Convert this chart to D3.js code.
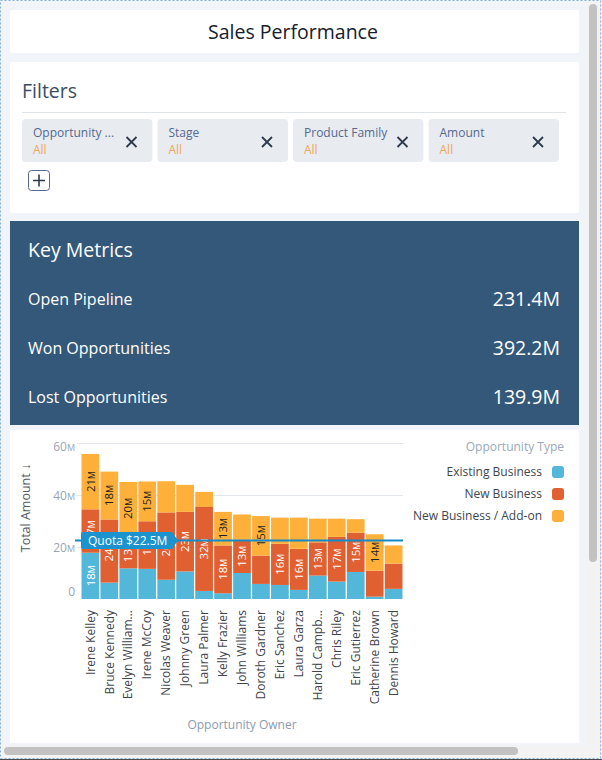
<!DOCTYPE html>
<html>
<head>
<meta charset="utf-8">
<script src="https://cdn.jsdelivr.net/npm/d3@7"></script>
<style>
  html, body { margin: 0; padding: 0; overflow: hidden; background: #f1f4f8; }
  svg { display: block; font-family: "Open Sans", sans-serif; }
</style>
</head>
<body>
<svg id="page" width="602" height="760"></svg>
<script>
// ---------- data ----------
const dashboardTitle = "Sales Performance";
const filterNames = ["Opportunity ...", "Stage", "Product Family", "Amount"];
const filterValues = ["All", "All", "All", "All"];
const metricLabels = ["Open Pipeline", "Won Opportunities", "Lost Opportunities"];
const metricValues = ["231.4M", "392.2M", "139.9M"];

const owners = ["Irene Kelley", "Bruce Kennedy", "Evelyn William...", "Irene McCoy", "Nicolas Weaver",
  "Johnny Green", "Laura Palmer", "Kelly Frazier", "John Williams", "Doroth Gardner", "Eric Sanchez",
  "Laura Garza", "Harold Campb...", "Chris Riley", "Eric Gutierrez", "Catherine Brown", "Dennis Howard"];
const existingBusiness = [17.8, 6.3, 11.8, 11.6, 7.4, 10.6, 3.1, 2.2, 10.0, 5.8, 5.4, 3.5, 9.0, 6.7, 10.4, 0.9, 3.9];
const newBusiness      = [16.7, 24.3, 12.8, 18.3, 25.9, 22.9, 32.3, 18.4, 12.8, 10.9, 15.8, 15.8, 12.8, 17.2, 15.1, 10.0, 9.7];
const addOnBusiness    = [21.3, 18.4, 20.4, 15.3, 12.0, 10.4, 5.8, 12.9, 9.7, 15.2, 10.1, 12.0, 9.1, 7.0, 5.2, 14.0, 7.0];
const seriesNames = ["Existing Business", "New Business", "New Business / Add-on"];
const seriesColors = ["#52b7d8", "#e16032", "#ffb03b"];
const yTicks = [0, 20, 40, 60];
const quotaValue = 22.5;
const quotaLabel = "Quota $22.5M";

// ---------- page ----------
const svg = d3.select("#page");
svg.append("rect").attr("x", 0).attr("y", 0).attr("width", 602).attr("height", 760).attr("fill", "#f1f4f8");

// header card
svg.append("rect").attr("x", 10).attr("y", 10).attr("width", 569).attr("height", 43).attr("fill", "#fff").attr("rx", 2);
svg.append("text").attr("x", 293).attr("y", 39).attr("text-anchor", "middle")
  .attr("font-size", 19.5).attr("fill", "#16202d").text(dashboardTitle);

// filters card
svg.append("rect").attr("x", 10).attr("y", 62).attr("width", 569).attr("height", 151).attr("fill", "#fff").attr("rx", 2);
svg.append("text").attr("x", 22).attr("y", 98).attr("font-size", 19.5).attr("fill", "#3b4d63").text("Filters");
svg.append("line").attr("x1", 22).attr("x2", 566).attr("y1", 112.5).attr("y2", 112.5).attr("stroke", "#dfe4ea");

const pillX = d3.scaleBand().domain(filterNames).range([22, 559]).paddingInner(0.037);
const pills = svg.selectAll("g.pill").data(filterNames).join("g").attr("class", "pill")
  .attr("transform", d => `translate(${pillX(d)},119)`);
pills.append("rect").attr("width", pillX.bandwidth()).attr("height", 43).attr("rx", 4).attr("fill", "#e8ecf1");
pills.append("text").attr("x", 11).attr("y", 18)
  .attr("font-size", 12).attr("fill", "#54698d").text(d => d);
pills.append("text").attr("x", 11).attr("y", 35)
  .attr("font-size", 12).attr("fill", "#f2a65a").text((d, i) => filterValues[i]);
pills.each(function() {
  const g = d3.select(this);
  const cx = pillX.bandwidth() - 21, cy = 23;
  g.append("path").attr("d", `M${cx - 5},${cy - 5}L${cx + 5},${cy + 5}M${cx + 5},${cy - 5}L${cx - 5},${cy + 5}`)
    .attr("stroke", "#2c3a4c").attr("stroke-width", 1.8);
});
svg.append("rect").attr("x", 28.5).attr("y", 170.5).attr("width", 21).attr("height", 20).attr("rx", 3)
  .attr("fill", "#fff").attr("stroke", "#54698d");
svg.append("path").attr("d", "M33,180.5H45M39,174.5V186.5").attr("stroke", "#2c3a4c").attr("stroke-width", 1.6);

// key metrics
svg.append("rect").attr("x", 10).attr("y", 221).attr("width", 569).attr("height", 204).attr("fill", "#34587a");
svg.append("text").attr("x", 28).attr("y", 257).attr("font-size", 19.5).attr("fill", "#fff").text("Key Metrics");
const metricY = d3.scalePoint().domain(metricLabels).range([299, 397]);
svg.selectAll("text.mlabel").data(metricLabels).join("text").attr("class", "mlabel")
  .attr("x", 28).attr("y", d => metricY(d) + 5.5).attr("font-size", 16).attr("fill", "#fff").text(d => d);
svg.selectAll("text.mvalue").data(metricLabels).join("text").attr("class", "mvalue")
  .attr("x", 560).attr("y", d => metricY(d) + 7).attr("text-anchor", "end")
  .attr("font-size", 19.5).attr("fill", "#fff").text((d, i) => metricValues[i]);

// chart card
svg.append("rect").attr("x", 10).attr("y", 430).attr("width", 569).attr("height", 313).attr("fill", "#fff");

// ---------- chart ----------
const rows = owners.map((o, i) => ({
  owner: o,
  [seriesNames[0]]: existingBusiness[i],
  [seriesNames[1]]: newBusiness[i],
  [seriesNames[2]]: addOnBusiness[i]
}));
const stacked = d3.stack().keys(seriesNames)(rows);

const x = d3.scaleBand().domain(owners).range([81.5, 402.5]).paddingInner(0.065);
const y = d3.scaleLinear().domain([0, 60]).range([599, 443]);
const color = d3.scaleOrdinal().domain(seriesNames).range(seriesColors);

const chart = svg.append("g");

// grid
chart.selectAll("line.grid").data(yTicks.filter(t => t > 0)).join("line").attr("class", "grid")
  .attr("x1", 77).attr("x2", 403).attr("y1", d => y(d) + 0.5).attr("y2", d => y(d) + 0.5)
  .attr("stroke", "#e3e7ed");

// y axis
const yAxis = chart.append("g").attr("transform", "translate(75,0)")
  .call(d3.axisLeft(y).tickValues(yTicks).tickSize(0).tickPadding(0).tickFormat(d => d));
yAxis.select(".domain").remove();
yAxis.selectAll(".tick text").attr("fill", "#9aa5b4").attr("font-size", 12)
  .attr("font-family", "Open Sans, sans-serif")
  .attr("dy", d => d === 0 ? "-0.3em" : (d === 60 ? "0.65em" : "0.35em"))
  .each(function(d) {
    if (d !== 0) d3.select(this).append("tspan").attr("font-size", "0.75em").text("M");
  });

// bars
const layers = chart.selectAll("g.layer").data(stacked).join("g").attr("class", "layer")
  .attr("fill", d => color(d.key));
layers.selectAll("rect").data(d => d).join("rect")
  .attr("x", d => x(d.data.owner))
  .attr("width", x.bandwidth())
  .attr("y", d => y(d[1]))
  .attr("height", d => y(d[0]) - y(d[1]));

// segment labels
const labelG = chart.append("g");
stacked.forEach((layer, li) => {
  layer.forEach(d => {
    const v = d[1] - d[0];
    if (v < 12.5) return;
    const cx = x(d.data.owner) + x.bandwidth() / 2;
    const cy = (y(d[0]) + y(d[1])) / 2;
    const t = labelG.append("text")
      .attr("transform", `translate(${cx},${cy}) rotate(-90)`)
      .attr("text-anchor", "middle").attr("dy", "0.36em")
      .attr("font-size", 11.5)
      .attr("fill", li === 2 ? "#1e1e1e" : "#ffffff");
    t.append("tspan").text(Math.round(v));
    t.append("tspan").attr("font-size", "0.75em").text("M");
  });
});

// quota line and label
const qy = y(quotaValue);
chart.append("line").attr("x1", 75).attr("x2", 403).attr("y1", qy).attr("y2", qy)
  .attr("stroke", "#1589c6").attr("stroke-width", 2);
chart.append("path")
  .attr("d", `M83,${qy - 8.5}H172L178,${qy}L172,${qy + 8.5}H83Q81,${qy + 8.5} 81,${qy + 6.5}V${qy - 6.5}Q81,${qy - 8.5} 83,${qy - 8.5}Z`)
  .attr("fill", "#1b93cf");
chart.append("text").attr("x", 88).attr("y", qy + 4.3).attr("font-size", 12).attr("fill", "#fff").text(quotaLabel);

// x axis labels
const xAxis = chart.append("g").attr("transform", "translate(0,610)")
  .call(d3.axisBottom(x).tickSize(0).tickPadding(0));
xAxis.select(".domain").remove();
xAxis.selectAll(".tick text")
  .attr("font-size", 12).attr("font-family", "Open Sans, sans-serif").attr("fill", "#3f454d")
  .attr("text-anchor", "end").attr("transform", "rotate(-90)")
  .attr("x", 0).attr("y", 0).attr("dy", "0.35em");

// axis titles
chart.append("text").attr("transform", "translate(30,508) rotate(-90)").attr("text-anchor", "middle")
  .attr("font-size", 12.5).attr("fill", "#555b63").text("Total Amount \u2193");
chart.append("text").attr("x", 242).attr("y", 729).attr("text-anchor", "middle")
  .attr("font-size", 12).attr("fill", "#8c9bb0").text("Opportunity Owner");

// legend
const legend = chart.append("g");
legend.append("text").attr("x", 564).attr("y", 451).attr("text-anchor", "end")
  .attr("font-size", 12).attr("fill", "#9aa8bb").text("Opportunity Type");
const legY = d3.scalePoint().domain(seriesNames).range([472, 516]);
const items = legend.selectAll("g.item").data(seriesNames).join("g").attr("class", "item")
  .attr("transform", d => `translate(0,${legY(d)})`);
items.append("text").attr("x", 542).attr("y", 4.3).attr("text-anchor", "end")
  .attr("font-size", 12).attr("fill", "#3e4650").text(d => d);
items.append("rect").attr("x", 552).attr("y", -6).attr("width", 12).attr("height", 12).attr("rx", 3)
  .attr("fill", d => color(d));

// ---------- scrollbars / frame ----------
svg.append("rect").attr("x", 586).attr("y", 0).attr("width", 13).attr("height", 744).attr("fill", "#f3f3f3");
svg.append("rect").attr("x", 589).attr("y", 4).attr("width", 8).attr("height", 558).attr("rx", 4).attr("fill", "#c2c2c2");
svg.append("rect").attr("x", 0).attr("y", 745).attr("width", 599).attr("height", 13).attr("fill", "#f3f3f3");
svg.append("rect").attr("x", 4).attr("y", 747).attr("width", 514).attr("height", 8).attr("rx", 4).attr("fill", "#c2c2c2");
svg.append("rect").attr("x", 0.5).attr("y", 0.5).attr("width", 600).attr("height", 758).attr("fill", "none")
  .attr("stroke", "#7fb0de").attr("stroke-dasharray", "2,2");
svg.append("line").attr("x1", 0).attr("x2", 602).attr("y1", 759.5).attr("y2", 759.5).attr("stroke", "#4a4a4a");
</script>
</body>
</html>
